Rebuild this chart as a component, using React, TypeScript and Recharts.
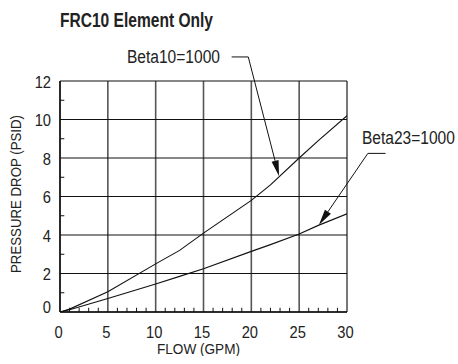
import React from 'react'
import {
  LineChart,
  Line,
  XAxis,
  YAxis,
  CartesianGrid,
  ReferenceLine,
  ReferenceDot,
  Label,
} from 'recharts'

const SANS = '"Liberation Sans", Arial, sans-serif'

// curve readings (flow GPM -> pressure drop PSID)
const FLOW = [0, 1, 5, 10, 12.5, 15, 20, 22, 25, 27, 30]
const BETA10 = [0, 0.15, 1.05, 2.5, 3.2, 4.1, 5.8, 6.6, 8.0, 8.9, 10.2]
const BETA23 = [0, 0.12, 0.7, 1.45, 1.85, 2.25, 3.15, 3.5, 4.05, 4.5, 5.1]

const X_TICKS = [0, 5, 10, 15, 20, 25, 30]
const Y_TICKS = [0, 2, 4, 6, 8, 10, 12]
const X_MINOR = [1, 2, 3, 4, 6, 7, 8, 9, 11, 12, 13, 14, 16, 17, 18, 19, 21, 22, 23, 24, 26, 27, 28, 29]
const Y_MINOR = [1, 3, 5, 7, 9, 11]

// callouts: label centre, elbow start, elbow end, arrow tip (data units)
const CALLOUTS = [
  { text: 'Beta10=1000', label: [11.86, 13.25], from: [17.94, 13.25], elbow: [19.68, 13.25], tip: [22.9, 7.05] },
  { text: 'Beta23=1000', label: [36.42, 9.09], from: [34.03, 8.24], elbow: [32.18, 8.24], tip: [27.06, 4.52] },
]

const beta10Data = FLOW.map((x, i) => ({ x, y: BETA10[i] }))
const beta23Data = FLOW.map((x, i) => ({ x, y: BETA23[i] }))

// condensed look: Liberation Sans squeezed to a set width (or by a factor)
function NText({ x, y, k = 1, ky = 1, len, size, anchor = 'middle', weight = 'normal', rotate = 0, children }: any) {
  return (
    <text
      transform={`translate(${x},${y}) rotate(${rotate}) scale(${len ? 1 : k},${ky})`}
      textAnchor={anchor}
      fontSize={size}
      fontWeight={weight}
      fontFamily={SANS}
      fill="#222"
      textLength={len}
      lengthAdjust={len ? 'spacingAndGlyphs' : undefined}
    >
      {children}
    </text>
  )
}

function Arrow(props: any) {
  const { x1, y1, x2, y2 } = props
  const dx = x2 - x1
  const dy = y2 - y1
  const len = Math.sqrt(dx * dx + dy * dy) || 1
  const ux = dx / len
  const uy = dy / len
  const hl = 16
  const hw = 3.6
  const bx = x2 - ux * hl
  const by = y2 - uy * hl
  const pts = `${x2},${y2} ${bx - uy * hw},${by + ux * hw} ${bx + uy * hw},${by - ux * hw}`
  return (
    <g>
      <line x1={x1} y1={y1} x2={bx} y2={by} stroke="#111" strokeWidth={1} />
      <polygon points={pts} fill="#111" />
    </g>
  )
}

function XTick(props: any) {
  const { x, y, payload } = props
  return (
    <NText x={x - 1.5} y={y + 25.5} k={0.92} size={16}>
      {payload.value}
    </NText>
  )
}

function YTick(props: any) {
  const { x, y, payload } = props
  const dy = payload.value === 0 ? 0.5 : 6.8
  return (
    <NText x={x} y={y + dy} k={0.92} size={16} anchor="end">
      {payload.value}
    </NText>
  )
}

export default function App() {
  return (
    <div style={{ position: 'relative', width: 458, height: 364, overflow: 'hidden' }}>
      <style>{'html,body{margin:0;padding:0;overflow:hidden}'}</style>
      <svg width={260} height={30} style={{ position: 'absolute', left: 8, top: 8 }}>
        <NText x={52} y={18.5} len={153} size={20} anchor="start" weight="bold">
          FRC10 Element Only
        </NText>
      </svg>
      <div style={{ position: 'absolute', left: 8, top: 8 }}>
        <LineChart width={450} height={348} margin={{ top: 73, right: 111, bottom: 14, left: 0 }}>
          <CartesianGrid horizontal={false} stroke="#555" strokeWidth={1.6} />
          <CartesianGrid vertical={false} stroke="#111" strokeWidth={1.2} />
          <XAxis
            dataKey="x"
            type="number"
            domain={[0, 30]}
            ticks={X_TICKS}
            allowDataOverflow
            tickLine={false}
            tickSize={0}
            tickMargin={0}
            tick={<XTick />}
            axisLine={{ stroke: '#111', strokeWidth: 1.5 }}
            height={30}
          >
            <Label
              content={({ viewBox }: any) => (
                <NText x={viewBox.x + viewBox.width / 2 - 5} y={viewBox.y + 41.5} len={83} size={14}>
                  FLOW (GPM)
                </NText>
              )}
            />
          </XAxis>
          <YAxis
            type="number"
            domain={[0, 12]}
            ticks={Y_TICKS}
            allowDataOverflow
            tickLine={false}
            tickSize={0}
            tickMargin={9}
            tick={<YTick />}
            axisLine={{ stroke: '#111', strokeWidth: 1.5 }}
            width={52}
          >
            <Label
              content={({ viewBox }: any) => (
                <NText
                  x={viewBox.x + 12.5}
                  y={viewBox.y + viewBox.height / 2 - 2.5}
                  len={158}
                  size={14}
                  rotate={-90}
                >
                  PRESSURE DROP (PSID)
                </NText>
              )}
            />
          </YAxis>
          {X_MINOR.map((v) => (
            <ReferenceLine
              key={'xm' + v}
              segment={[{ x: v, y: 0 }, { x: v, y: 0.22 }]}
              stroke="#111"
              strokeWidth={1}
            />
          ))}
          {Y_MINOR.map((v) => (
            <ReferenceLine
              key={'ym' + v}
              segment={[{ x: 0, y: v }, { x: 0.45, y: v }]}
              stroke="#111"
              strokeWidth={1}
            />
          ))}
          <Line data={beta10Data} dataKey="y" type="linear" stroke="#111" strokeWidth={1.1} dot={false} isAnimationActive={false} />
          <Line data={beta23Data} dataKey="y" type="linear" stroke="#111" strokeWidth={1.1} dot={false} isAnimationActive={false} />
          {CALLOUTS.map((c) => (
            <ReferenceLine
              key={c.text + 'h'}
              segment={[{ x: c.from[0], y: c.from[1] }, { x: c.elbow[0], y: c.elbow[1] }]}
              stroke="#111"
              strokeWidth={1}
              ifOverflow="visible"
            />
          ))}
          {CALLOUTS.map((c) => (
            <ReferenceLine
              key={c.text + 'a'}
              segment={[{ x: c.elbow[0], y: c.elbow[1] }, { x: c.tip[0], y: c.tip[1] }]}
              ifOverflow="visible"
              shape={(p: any) => <Arrow {...p} />}
            />
          ))}
          {CALLOUTS.map((c) => (
            <ReferenceDot
              key={c.text + 't'}
              x={c.label[0]}
              y={c.label[1]}
              r={0}
              ifOverflow="visible"
              label={({ viewBox }: any) => (
                <NText
                  x={viewBox.x + viewBox.width / 2}
                  y={viewBox.y + viewBox.height / 2 + 6.5}
                  len={93}
                  size={16}
                  ky={1.125}
                >
                  {c.text}
                </NText>
              )}
            />
          ))}
        </LineChart>
      </div>
    </div>
  )
}
